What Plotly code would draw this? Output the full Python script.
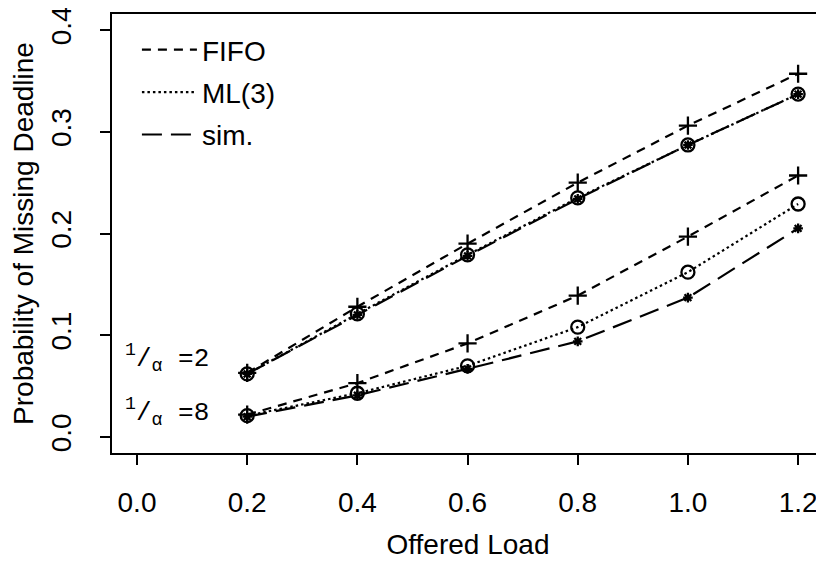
import plotly.graph_objects as go

loads = [0.2, 0.4, 0.6, 0.8, 1.0, 1.2]

# 1/alpha = 2 (upper group)
fifo_a2 = [0.063, 0.128, 0.190, 0.250, 0.306, 0.357]
ml3_a2 = [0.062, 0.121, 0.179, 0.235, 0.287, 0.337]
sim_a2 = [0.062, 0.120, 0.178, 0.234, 0.287, 0.337]

# 1/alpha = 8 (lower group)
fifo_a8 = [0.022, 0.053, 0.092, 0.139, 0.197, 0.257]
ml3_a8 = [0.021, 0.043, 0.070, 0.108, 0.162, 0.229]
sim_a8 = [0.020, 0.041, 0.067, 0.094, 0.137, 0.205]

x_ticks = [0.0, 0.2, 0.4, 0.6, 0.8, 1.0, 1.2]
y_ticks = [0.0, 0.1, 0.2, 0.3, 0.4]

FONT = "Liberation Sans, Arial, sans-serif"
K = "black"

styles = {
    "FIFO": dict(dash="9px,7px", symbol="cross-thin", size=13),
    "ML(3)": dict(dash="2.5px,3px", symbol="circle-open", size=13),
    "sim.": dict(dash="20px,9px", symbol="asterisk-open", size=8),
}

series = [
    ("FIFO", fifo_a2), ("ML(3)", ml3_a2), ("sim.", sim_a2),
    ("FIFO", fifo_a8), ("ML(3)", ml3_a8), ("sim.", sim_a8),
]

fig = go.Figure()
for name, vals in series:
    s = styles[name]
    fig.add_trace(go.Scatter(
        x=loads, y=vals, mode="lines+markers", name=name, showlegend=False,
        line=dict(color=K, width=2.2, dash=s["dash"]),
        marker=dict(symbol=s["symbol"], size=s["size"], color=K,
                    line=dict(color=K, width=2.3)),
    ))

# legend entries (line samples only)
for i, name in enumerate(["FIFO", "ML(3)", "sim."]):
    s = styles[name]
    fig.add_trace(go.Scatter(
        x=[None], y=[None], mode="lines", name=name, legendgroup=f"g{i}",
        line=dict(color=K, width=2.2, dash=s["dash"]),
    ))

MONO = "Liberation Mono, Courier New, monospace"
fig.add_annotation(xref="paper", yref="paper", x=0.015, y=0.216,
                   xanchor="left", yanchor="middle", showarrow=False,
                   text="<sup>1</sup>/<sub>α</sub> =2",
                   font=dict(family=MONO, size=26, color=K))
fig.add_annotation(xref="paper", yref="paper", x=0.015, y=0.093,
                   xanchor="left", yanchor="middle", showarrow=False,
                   text="<sup>1</sup>/<sub>α</sub> =8",
                   font=dict(family=MONO, size=26, color=K))

# the page body has an 8px margin, so the figure is sized/offset to compensate
fig.update_layout(
    width=816, height=554,
    margin=dict(l=104, r=0, t=6, b=109),
    paper_bgcolor="white", plot_bgcolor="white",
    font=dict(family=FONT, color=K, size=28),
    showlegend=True,
    legend=dict(x=0.035, y=0.975, xanchor="left", yanchor="top",
                bgcolor="rgba(0,0,0,0)", font=dict(size=28, family=FONT),
                traceorder="grouped", tracegroupgap=3, itemwidth=55),
    xaxis=dict(range=[-0.0454, 1.247], tickvals=x_ticks,
               ticktext=[f"{v:.1f}" for v in x_ticks],
               showgrid=False, zeroline=False, showline=True, linecolor=K,
               linewidth=2, mirror=True, ticks="outside", ticklen=10,
               tickwidth=2, tickcolor=K, ticklabelstandoff=13,
               ticklabeloverflow="allow",
               tickfont=dict(size=28), automargin=False,
               title=dict(text="Offered Load", font=dict(size=28), standoff=18)),
    yaxis=dict(range=[-0.0157, 0.4157], tickvals=y_ticks,
               ticktext=[f"{v:.1f}" for v in y_ticks],
               showgrid=False, zeroline=False, showline=True, linecolor=K,
               linewidth=2, ticks="outside", ticklen=10, tickwidth=2,
               tickcolor=K, tickangle=-90, ticklabelstandoff=18,
               ticklabeloverflow="allow",
               tickfont=dict(size=28), automargin=False,
               title=dict(text="Probability of Missing Deadline", font=dict(size=28), standoff=14)),
)

fig.write_html("out.html")
